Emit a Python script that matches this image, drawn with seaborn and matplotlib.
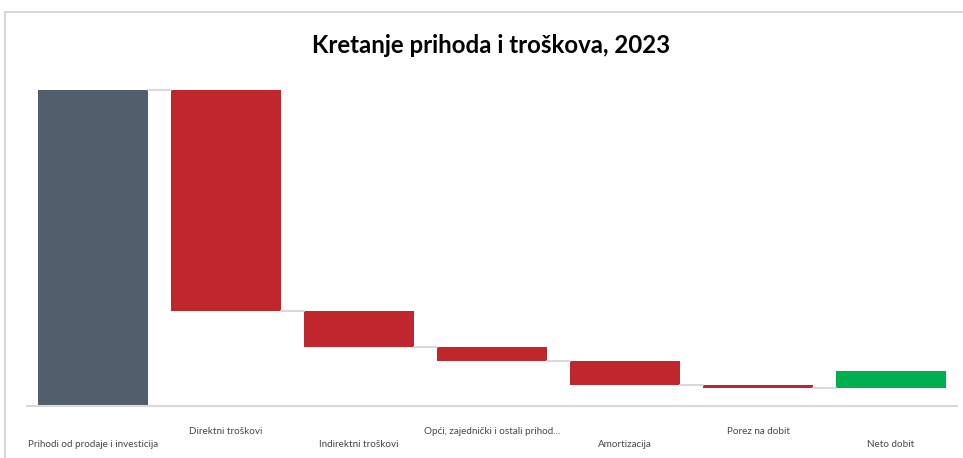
import numpy as np
import pandas as pd
import matplotlib
matplotlib.use("Agg")
import matplotlib.pyplot as plt
import seaborn as sns
from matplotlib.lines import Line2D

# Podaci (procijenjeno sa slike, relativno: prihodi = 100)
kategorije = [
    "Prihodi od prodaje i investicija",
    "Direktni troškovi",
    "Indirektni troškovi",
    "Opći, zajednički i ostali prihod...",
    "Amortizacija",
    "Porez na dobit",
    "Neto dobit",
]
iznosi = [100, -70, -11.4, -4.4, -7.4, -1.1, 5.5]
boje = ["#525e6b", "#c0272d", "#c0272d", "#c0272d", "#c0272d", "#c0272d", "#00b050"]

# kumulativ za waterfall
kraj = np.cumsum(iznosi)
pocetak = kraj - np.array(iznosi)
dno = np.minimum(pocetak, kraj)
vrh = np.maximum(pocetak, kraj)

df = pd.DataFrame({"kategorija": kategorije, "vrh": vrh})

sns.set_style("white")
plt.rcParams["font.family"] = ["Lato", "DejaVu Sans"]

fig = plt.figure(figsize=(9.63, 4.58), dpi=100)
ax = fig.add_axes([0, 0, 1, 1])

sirina = 0.827
sns.barplot(data=df, x="kategorija", y="vrh", hue="kategorija",
            palette=boje, width=sirina, legend=False, ax=ax, saturation=1)

# pomakni stupce na pravo dno
for patch, lo, hi in zip(ax.patches, dno, vrh):
    patch.set_y(lo)
    patch.set_height(hi - lo)
    patch.set_edgecolor("none")

# spojnice između stupaca
for i in range(len(kategorije) - 1):
    ax.plot([i + sirina / 2, i + 1 - sirina / 2], [kraj[i], kraj[i]],
            color="#d9d9d9", lw=1.5, zorder=1)

# osnovna linija
ax.hlines(0, -0.5, len(kategorije) - 0.5, color="#d9d9d9", lw=1.5, zorder=3)

ax.set_xlim(-0.699, 6.541)
ax.set_ylim(-16.46, 128.5)
ax.set_xticks([])
ax.set_yticks([])
ax.set_xlabel("")
ax.set_ylabel("")
sns.despine(ax=ax, left=True, bottom=True)

# oznake kategorija, naizmjenično
for i, naziv in enumerate(kategorije):
    y = -12.3 if i % 2 == 0 else -8.2
    ax.text(i, y, naziv, ha="center", va="center", fontsize=7.1, color="#474747")

ax.text(2.99, 114.2, "Kretanje prihoda i troškova, 2023", ha="center", va="center",
        fontsize=17.3, fontweight="bold", color="#000000")

# okvir grafikona
fig.add_artist(Line2D([4.5 / 963, 1], [1 - 12 / 458, 1 - 12 / 458],
                      transform=fig.transFigure, color="#d0d0d0", lw=1.2))
fig.add_artist(Line2D([4.5 / 963, 4.5 / 963], [0, 1 - 12 / 458],
                      transform=fig.transFigure, color="#d0d0d0", lw=1.2))

fig.savefig("out.png", dpi=100)
